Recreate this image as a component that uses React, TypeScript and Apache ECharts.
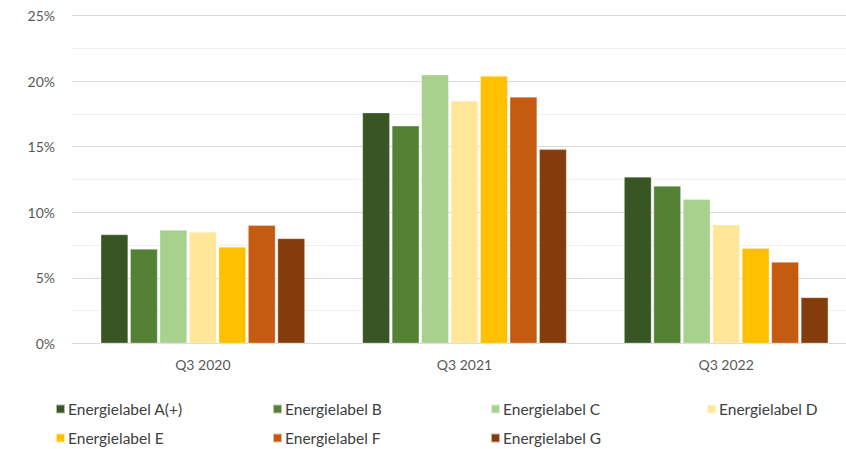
import React, { useEffect, useRef } from "react";
import * as echarts from "echarts";

const categories = ["Q3 2020", "Q3 2021", "Q3 2022"];
const seriesNames = [
  "Energielabel A(+)",
  "Energielabel B",
  "Energielabel C",
  "Energielabel D",
  "Energielabel E",
  "Energielabel F",
  "Energielabel G",
];
const labelA = [8.3, 17.6, 12.7];
const labelB = [7.2, 16.6, 12.0];
const labelC = [8.65, 20.5, 11.0];
const labelD = [8.5, 18.5, 9.05];
const labelE = [7.35, 20.4, 7.25];
const labelF = [9.0, 18.8, 6.2];
const labelG = [8.0, 14.8, 3.5];
const seriesValues = [labelA, labelB, labelC, labelD, labelE, labelF, labelG];
const colors = ["#375623", "#548235", "#A9D18E", "#FFE699", "#FFC000", "#C55A11", "#843C0C"];
const yTicks = [0, 5, 10, 15, 20, 25];

const FONT = "Lato, 'Open Sans', sans-serif";

export default function App() {
  const ref = useRef<HTMLDivElement>(null);
  useEffect(() => {
    if (!ref.current) return;
    const chart = echarts.init(ref.current, undefined, { renderer: "svg" });
    const colLeft = [55, 272, 490, 706];
    const rowTop = [401, 430];
    chart.setOption({
      animation: false,
      color: colors,
      textStyle: { fontFamily: FONT },
      grid: { left: 72, right: 0, top: 15.7, bottom: 105.7 },
      legend: seriesNames.map((name, i) => ({
        left: colLeft[i % 4],
        top: rowTop[Math.floor(i / 4)],
        padding: 0,
        itemWidth: 9,
        itemHeight: 9,
        itemGap: 4,
        icon: "rect",
        data: [name],
        textStyle: { color: "#404040", fontSize: 15.5, fontFamily: FONT, padding: [0, 0, 0, -2] },
      })),
      xAxis: {
        type: "category",
        data: categories,
        axisLine: { show: true, lineStyle: { color: "#d9d9d9", width: 1 } },
        axisTick: { show: false },
        axisLabel: { color: "#595959", fontSize: 14, fontFamily: FONT, margin: 14 },
      },
      yAxis: {
        type: "value",
        min: yTicks[0],
        max: yTicks[yTicks.length - 1],
        interval: 5,
        axisLine: { show: false },
        axisTick: { show: false },
        axisLabel: {
          color: "#595959",
          fontSize: 14,
          fontFamily: FONT,
          margin: 17,
          formatter: (v: number) => `${v}%`,
        },
        splitLine: { lineStyle: { color: "#d9d9d9", width: 1 } },
        minorTick: { show: false, splitNumber: 2 },
        minorSplitLine: { show: true, lineStyle: { color: "#f0f0f0", width: 1 } },
      },
      series: seriesNames.map((name, i) => ({
        name,
        type: "bar",
        data: seriesValues[i],
        barGap: "8%",
        barCategoryGap: "22%",
        itemStyle: { color: colors[i], borderColor: "rgba(255,255,255,0.6)", borderWidth: 0.5 },
      })),
    });
    return () => chart.dispose();
  }, []);
  return (
    <div style={{ width: 846, height: 449, position: "absolute", left: 0, top: 0, overflow: "hidden" }}>
      <div ref={ref} style={{ width: 857, height: 449 }} />
    </div>
  );
}
